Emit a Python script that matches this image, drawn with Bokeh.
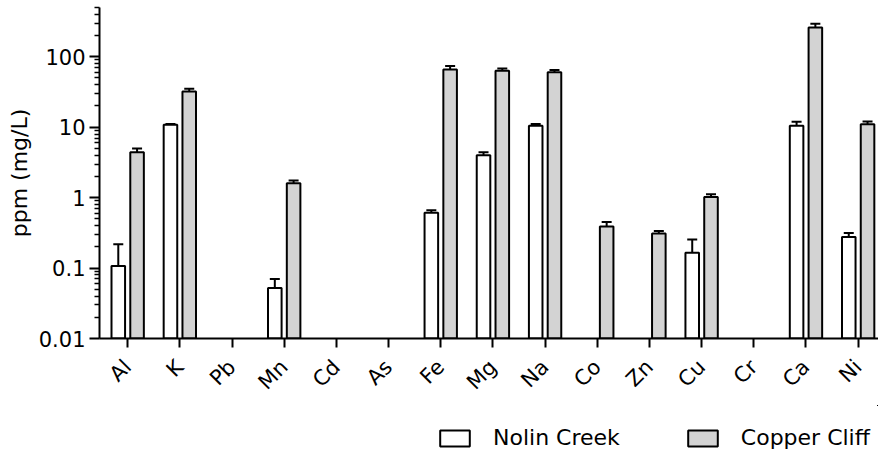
import math
from bokeh.plotting import figure
from bokeh.layouts import column
from bokeh.models import (ColumnDataSource, Range1d, FixedTicker, CustomJSTickFormatter,
                          Whisker, TeeHead, Legend, LegendItem)
from bokeh.embed import file_html
from bokeh.resources import INLINE

NAN = float("nan")
elements = ["Al", "K", "Pb", "Mn", "Cd", "As", "Fe", "Mg", "Na", "Co", "Zn", "Cu", "Cr", "Ca", "Ni"]
nolin = [0.107, 10.8, NAN, 0.052, NAN, NAN, 0.61, 4.0, 10.5, NAN, NAN, 0.165, NAN, 10.5, 0.275]
nolin_err = [0.11, 0.3, NAN, 0.018, NAN, NAN, 0.05, 0.4, 0.6, NAN, NAN, 0.09, NAN, 1.4, 0.04]
copper = [4.4, 32.0, NAN, 1.6, NAN, NAN, 66.0, 63.0, 60.0, 0.39, 0.31, 1.02, NAN, 260.0, 11.0]
copper_err = [0.6, 3.0, NAN, 0.15, NAN, NAN, 8.0, 5.0, 5.0, 0.06, 0.025, 0.1, NAN, 35.0, 1.0]
series_names = ["Nolin Creek", "Copper Cliff"]
series_fill = ["white", "#d3d3d3"]
y_major = [0.01, 0.1, 1, 10, 100]
y_minor = [m * 10.0 ** e for e in range(-2, 3) for m in range(2, 10) if m * 10.0 ** e <= 500]

FONT = "DejaVu Sans"
OFFSET = 0.18
BAR_W = 0.26


def make_source(vals, errs, shift):
    xs, tops, bots, ups = [], [], [], []
    for i, (v, e) in enumerate(zip(vals, errs)):
        if not math.isnan(v):
            xs.append(i + shift)
            tops.append(v)
            bots.append(0.01)
            ups.append(v + e)
    return ColumnDataSource(dict(x=xs, top=tops, bottom=bots, upper=ups))


src_n = make_source(nolin, nolin_err, -OFFSET)
src_c = make_source(copper, copper_err, OFFSET)
sources = [src_n, src_c]

p = figure(width=878, height=405, y_axis_type="log",
           x_range=Range1d(-0.54, 14.39), y_range=Range1d(0.01, 500),
           output_backend="svg", toolbar_location=None,
           min_border_left=99, min_border_right=0, min_border_top=7, min_border_bottom=67)
p.outline_line_color = None
p.xgrid.visible = False
p.ygrid.visible = False

for src, fill in zip(sources, series_fill):
    w = Whisker(source=src, base="x", lower="top", upper="upper", dimension="height",
                line_color="black", line_width=2,
                upper_head=TeeHead(size=10, line_width=2, line_color="black"), lower_head=None)
    p.add_layout(w)
    p.vbar(x="x", top="top", bottom="bottom", width=BAR_W, source=src,
           fill_color=fill, line_color="black", line_width=2)

# x axis
xa = p.xaxis[0]
xa.ticker = FixedTicker(ticks=list(range(len(elements))))
xa.formatter = CustomJSTickFormatter(args=dict(names=elements),
                                     code="return names[Math.round(tick)] || '';")
xa.major_label_orientation = math.pi / 4
xa.major_label_text_font = FONT
xa.major_label_text_font_size = "21px"
xa.major_label_text_color = "black"
xa.major_label_standoff = 16
xa.axis_line_width = 2
xa.axis_line_color = "black"
xa.major_tick_line_width = 2
xa.major_tick_line_color = "black"
xa.major_tick_out = 9
xa.major_tick_in = 0
xa.minor_tick_line_color = None

# y axis
ya = p.yaxis[0]
ya.ticker = FixedTicker(ticks=y_major, minor_ticks=y_minor)
ya.formatter = CustomJSTickFormatter(code="return String(Number(tick.toPrecision(3)));")
ya.major_label_text_font = FONT
ya.major_label_text_font_size = "21px"
ya.major_label_text_color = "black"
ya.major_label_standoff = 4
ya.axis_line_width = 2
ya.axis_line_color = "black"
ya.major_tick_line_width = 2
ya.major_tick_line_color = "black"
ya.major_tick_out = 10
ya.major_tick_in = 0
ya.minor_tick_line_width = 1.5
ya.minor_tick_line_color = "black"
ya.minor_tick_out = 5
ya.minor_tick_in = 0
ya.axis_label = "ppm (mg/L)"
ya.axis_label_text_font = FONT
ya.axis_label_text_font_size = "22px"
ya.axis_label_text_font_style = "normal"
ya.axis_label_text_color = "black"
ya.axis_label_standoff = 4

# legend strip (separate figure below the chart; its bars lie outside its view)
p2 = figure(width=878, height=50, x_range=Range1d(-100, -99), y_range=Range1d(-100, -99),
            output_backend="svg", toolbar_location=None,
            x_axis_location=None, y_axis_location=None,
            min_border_left=0, min_border_right=0, min_border_top=0, min_border_bottom=0)
p2.grid.visible = False
p2.outline_line_color = None
items = []
for name, fill, src in zip(series_names, series_fill, sources):
    r = p2.vbar(x="x", top="top", bottom="bottom", width=BAR_W, source=src,
                fill_color=fill, line_color="black", line_width=2)
    items.append(LegendItem(label=name, renderers=[r]))

legend = Legend(items=items, orientation="horizontal", location=(337, 5),
                glyph_width=37, glyph_height=20, label_standoff=20, spacing=64,
                padding=0, margin=0, border_line_alpha=0, background_fill_alpha=0,
                label_text_font=FONT, label_text_font_size="22px", label_text_color="black")
p2.add_layout(legend, "center")

open("out.html", "w").write(file_html(column(p, p2, spacing=0), INLINE))
